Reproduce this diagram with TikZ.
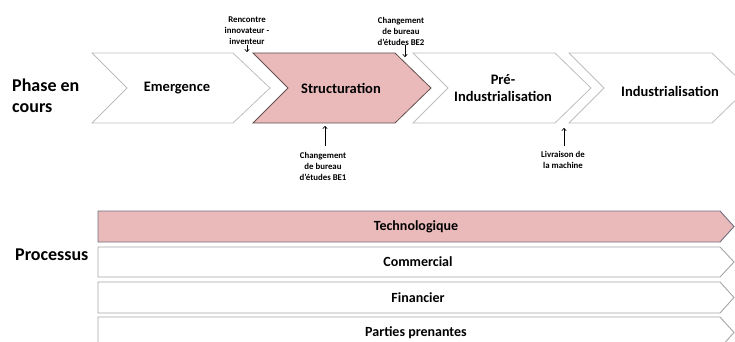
\documentclass[tikz,border=0pt]{standalone}
\usepackage{fontspec}
\setmainfont{Carlito}
\usetikzlibrary{arrows.meta}
\definecolor{pinkfill}{RGB}{234,186,186}
\definecolor{strborder}{RGB}{100,80,80}
\definecolor{lightborder}{RGB}{190,190,190}
\definecolor{techborder}{RGB}{115,110,130}
\definecolor{barborder}{RGB}{165,165,165}
\begin{document}
\begin{tikzpicture}[x=1pt,y=-1pt,
  chev/.style={draw=lightborder, line width=0.8pt, fill=white},
  chevpink/.style={draw=strborder, line width=0.8pt, fill=pinkfill},
  bar/.style={draw=barborder, line width=0.9pt, fill=white},
  barpink/.style={draw=techborder, line width=0.9pt, fill=pinkfill},
  phasetxt/.style={font=\bfseries\fontsize{14.5}{17}\selectfont, align=center, inner sep=0pt},
  bartxt/.style={font=\bfseries\fontsize{14}{16}\selectfont, inner sep=0pt},
  bigtxt/.style={font=\bfseries\fontsize{18}{20.5}\selectfont, align=left, inner sep=0pt, anchor=west},
  note/.style={font=\bfseries\fontsize{8.8}{11}\selectfont, align=center, inner sep=0pt},
  marker/.style={-{To[length=3pt,width=5pt]}, line width=0.6pt}
]
\useasboundingbox (0,0) rectangle (735,342);
\clip (0,0) rectangle (735,342);

% phase chevrons
\draw[chev] (92,53) -- (233,53) -- (270,88) -- (233,123) -- (92,123) -- (127,88) -- cycle;
\draw[chevpink] (253,53) -- (395,53) -- (431,88) -- (395,123) -- (253,123) -- (288,88) -- cycle;
\draw[chev] (413,53) -- (555,53) -- (591,88) -- (555,123) -- (413,123) -- (448,88) -- cycle;
\draw[chev] (569,53) -- (712,53) -- (748,88) -- (712,123) -- (569,123) -- (604,88) -- cycle;

% process bars
\draw[barpink] (98,211) -- (720,211) -- (734,226.5) -- (720,242) -- (98,242) -- cycle;
\draw[bar] (98,247) -- (720,247) -- (734,262) -- (720,277) -- (98,277) -- cycle;
\draw[bar] (98,282) -- (720,282) -- (734,297.5) -- (720,313) -- (98,313) -- cycle;
\draw[bar] (98,317) -- (720,317) -- (734,332.5) -- (720,348) -- (98,348) -- cycle;

% row labels
\node[bigtxt] (phase) at (12,96) {Phase en\\cours};
\node[bigtxt] (processus) at (15,255) {Processus};

% phase names
\node[phasetxt] (emergence) at (177,88) {Emergence};
\node[phasetxt] (structuration) at (341,88) {Structuration};
\node[phasetxt] (preind) at (503,88) {Pré-\\Industrialisation};
\node[phasetxt] (ind) at (670,91) {Industrialisation};

% process names
\node[bartxt] (techno) at (416,227) {Technologique};
\node[bartxt] (commercial) at (418,262) {Commercial};
\node[bartxt] (financier) at (418,298) {Financier};
\node[bartxt] (parties) at (416,333) {Parties prenantes};

% events
\node[note] (rencontre) at (247,31) {Rencontre\\innovateur -\\inventeur};
\coordinate (rencontretip) at (247,52);
\draw[marker] (rencontre.south) -- (rencontretip);

\node[note] (be2) at (401,31) {Changement\\de bureau\\d'études BE2};
\coordinate (be2tip) at (405,57);
\draw[marker] (be2.south -| be2tip) -- (be2tip);

\node[note] (be1) at (323,166) {Changement\\de bureau\\d'études BE1};
\coordinate (be1tip) at (325,126);
\draw[marker, shorten <=6pt] (be1.north -| be1tip) -- (be1tip);

\node[note] (livraison) at (563,160) {Livraison de\\la machine};
\coordinate (livraisontip) at (564,128);
\draw[marker, shorten <=5pt] (livraison.north -| livraisontip) -- (livraisontip);
\end{tikzpicture}
\end{document}
